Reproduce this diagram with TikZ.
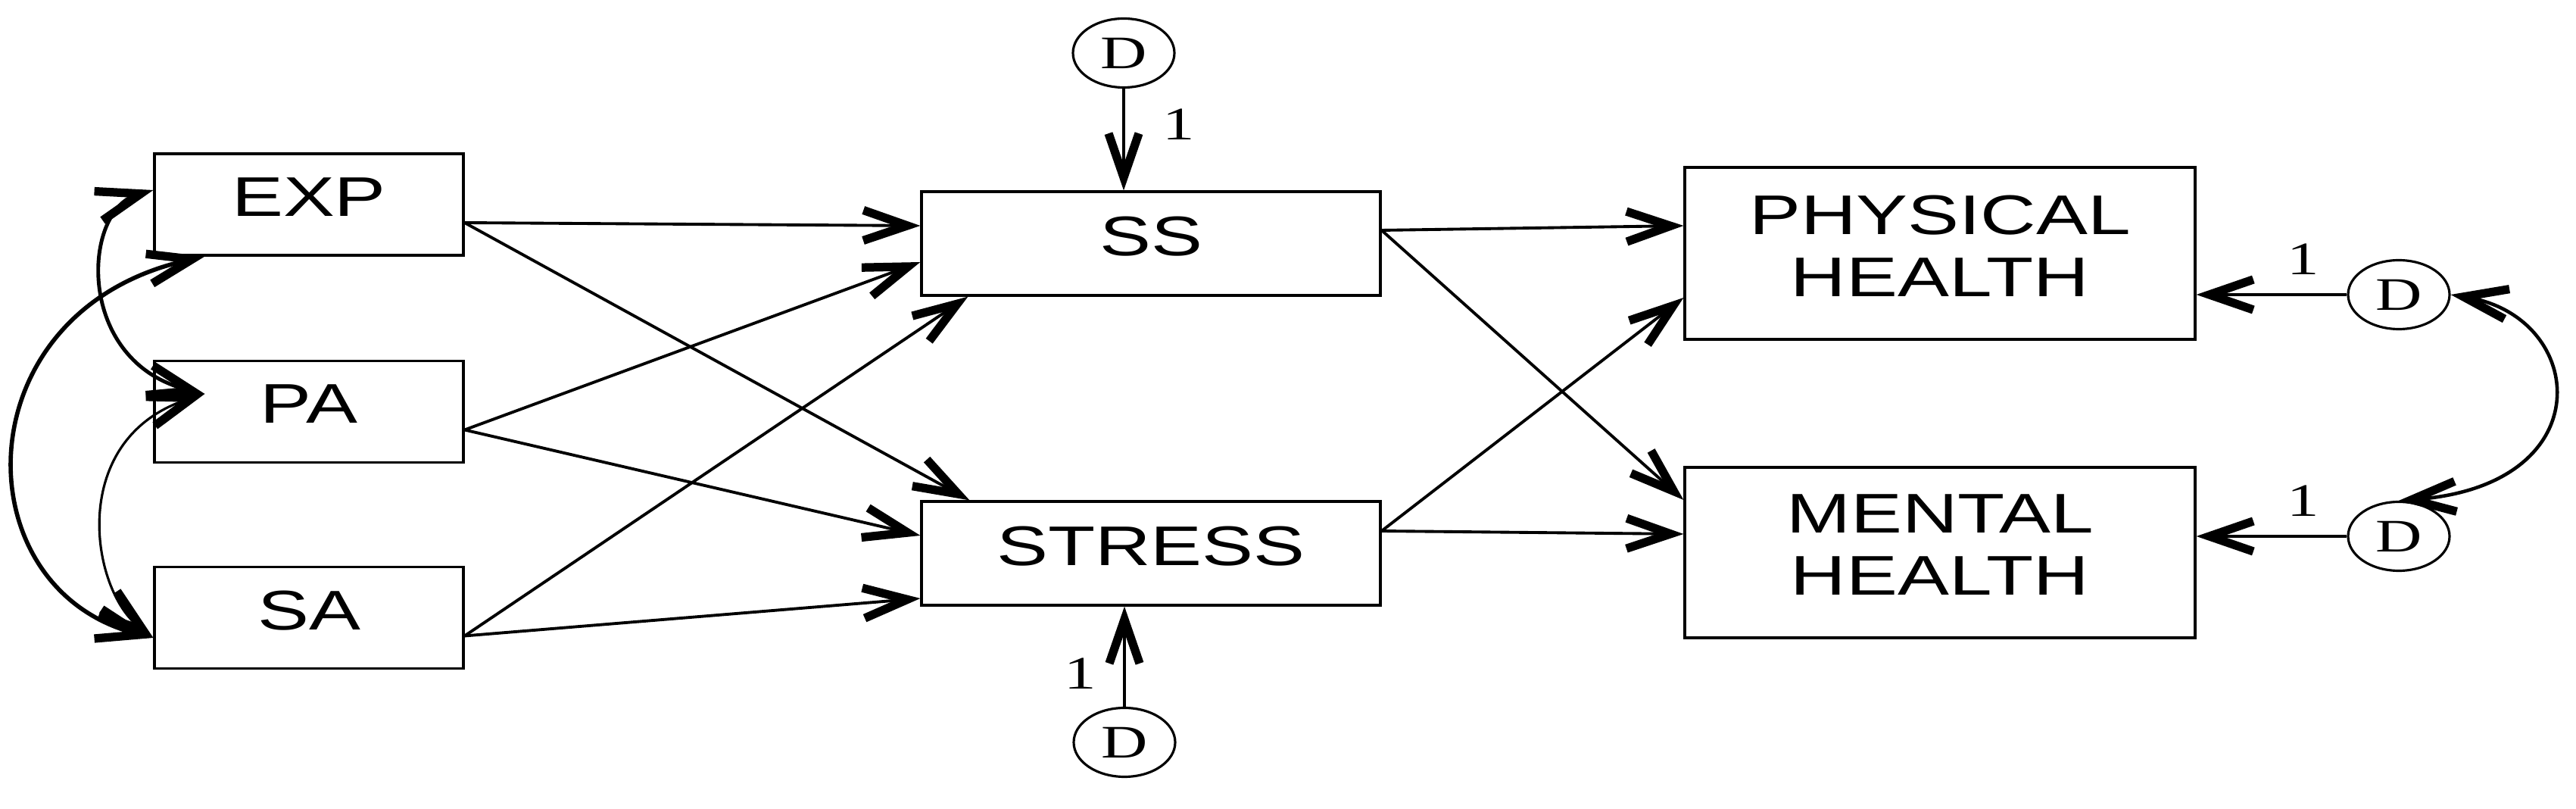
\documentclass[tikz,border=0pt]{standalone}
\usepackage{fontspec}
\setmainfont{Liberation Sans}[FakeStretch=1.38]
\newfontfamily\serfnt{Liberation Serif}[FakeStretch=1.38]
\usepackage{tikz}
\usetikzlibrary{shapes,arrows.meta,positioning}

\tikzset{
  var/.style={draw, line width=0.9pt, minimum width=4.08cm, minimum height=1.34cm,
    inner sep=0pt, text depth=2mm, align=center, font=\fontsize{21}{23.3}\selectfont},
  err/.style={draw, ellipse, line width=0.9pt, minimum width=1.34cm, minimum height=0.91cm,
    inner sep=0pt, font=\serfnt\fontsize{17.5}{19}\selectfont},
  one/.style={inner sep=0pt, font=\serfnt\fontsize{17.5}{19}\selectfont},
  link/.style={line width=1.1pt, -{Straight Barb[length=5.8mm,width=4mm,line width'=3.2pt]}},
  cov/.style={line width=1.3pt, {Straight Barb[length=5.8mm,width=4mm,line width'=3.2pt]}-{Straight Barb[length=5.8mm,width=4mm,line width'=3.2pt]}}
}

\begin{document}
\begin{tikzpicture}
    \useasboundingbox (0,0) rectangle (34.02,10.68);
    % Exogenous variables
    \node[var] (exp) at (4.08,7.98) {EXP};
    \node[var] (pa) at (4.08,5.245) {PA};
    \node[var] (sa) at (4.08,2.525) {SA};
    % Mediators
    \node[var, minimum width=6.06cm, minimum height=1.37cm] (ss) at (15.20,7.465) {SS};
    \node[var, minimum width=6.06cm, minimum height=1.37cm] (stress) at (15.20,3.375) {STRESS};
    % Outcomes
    \node[var, minimum width=6.74cm, minimum height=2.27cm] (ph) at (25.62,7.335) {PHYSICAL\\HEALTH};
    \node[var, minimum width=6.74cm, minimum height=2.25cm] (mh) at (25.62,3.385) {MENTAL\\HEALTH};
    % Disturbances
    \node[err] (dss) at (14.84,9.98) {D};
    \node[err] (dst) at (14.85,0.88) {D};
    \node[err] (dph) at (31.68,6.79) {D};
    \node[err] (dmh) at (31.68,3.60) {D};
    % Paths to mediators
    \draw[link] ([yshift=-2.4mm]exp.east) -- ([yshift=2.35mm]ss.west);
    \draw[link] ([yshift=-2.4mm]exp.east) -- ([xshift=6.5mm]stress.north west);
    \draw[link] ([yshift=-2.4mm]pa.east) -- ([yshift=-2.45mm]ss.west);
    \draw[link] ([yshift=-2.4mm]pa.east) -- ([yshift=2.35mm]stress.west);
    \draw[link] ([yshift=-2.4mm]sa.east) -- ([xshift=6.3mm]ss.south west);
    \draw[link] ([yshift=-2.4mm]sa.east) -- ([yshift=-5.95mm]stress.west);
    % Paths to outcomes
    \draw[link] ([yshift=1.75mm]ss.east) -- ([yshift=3.65mm]ph.west);
    \draw[link] ([yshift=1.75mm]ss.east) -- ([yshift=6.95mm]mh.west);
    \draw[link] ([yshift=2.95mm]stress.east) -- ([yshift=-5.85mm]ph.west);
    \draw[link] ([yshift=2.95mm]stress.east) -- ([yshift=2.45mm]mh.west);
    % Disturbance paths
    \draw[link] (dss) -- node[one, pos=0.35, right=5mm] {1} (dss.south |- ss.north);
    \draw[link] (dst) -- node[one, pos=0.33, left=3.5mm] {1} (dst.north |- stress.south);
    \draw[link] (dph) -- node[one, pos=0.29, above=2.5mm] {1} (dph.west -| ph.east);
    \draw[link] (dmh) -- node[one, pos=0.29, above=2.5mm] {1} (dmh.west -| mh.east);
    % Covariances
    \draw[cov, line width=1.4pt] ([yshift=1.9mm]exp.west) .. controls +(-0.94,-0.27) and +(-1.72,0.42) .. ([xshift=6.8mm,yshift=2.35mm]pa.west);
    \draw[cov, line width=1.6pt] ([xshift=6.8mm]exp.south west) .. controls +(-3.22,-0.71) and +(-2.54,0.64) .. ([yshift=-2.65mm]sa.west);
    \draw[cov, line width=0.9pt] ([xshift=6.8mm,yshift=2.35mm]pa.west) .. controls +(-1.82,-0.58) and +(-0.84,0.64) .. ([yshift=-2.65mm]sa.west);
    \draw[cov] (dph.east) .. controls +(1.8,-0.3) and +(2.7,0.2) .. (dmh.north);
\end{tikzpicture}
\end{document}
